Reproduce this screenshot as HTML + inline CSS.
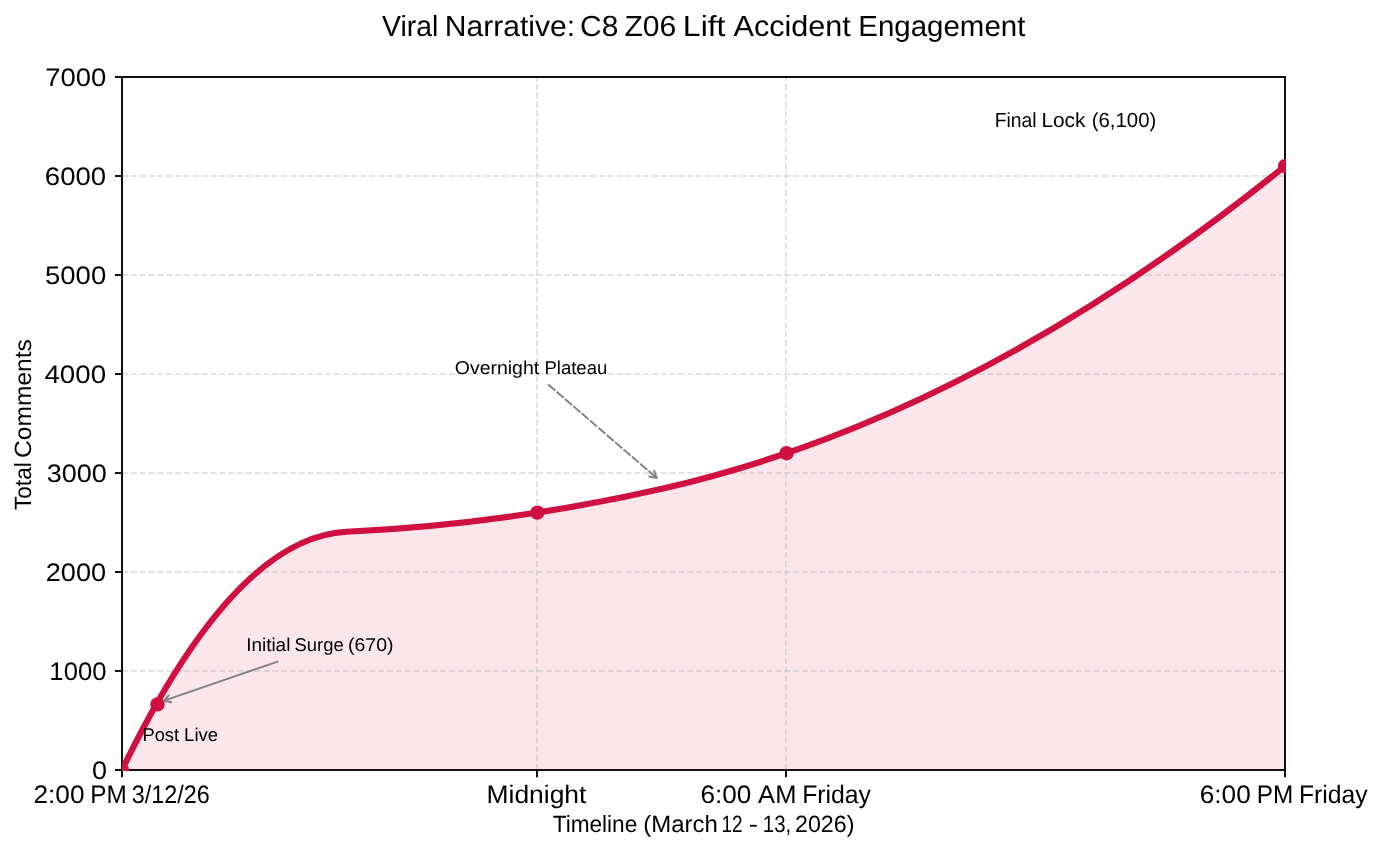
<!DOCTYPE html>
<html lang="en"><head><meta charset="utf-8"><title>Viral Narrative: C8 Z06 Lift Accident Engagement</title>
<style>html,body{margin:0;padding:0;background:#fff;}body{width:1384px;height:852px;overflow:hidden;}svg{display:block;}text{font-family:"Liberation Sans", sans-serif;fill:#000;text-rendering:geometricPrecision;}</style>
</head><body>
<svg width="1384" height="852" viewBox="0 0 1384 852">
<rect x="0" y="0" width="1384" height="852" fill="#fff"/>
<defs><clipPath id="ax"><rect x="122.0" y="77.0" width="1163.0" height="693.0"/></clipPath><clipPath id="ax2"><rect x="122.00" y="76.00" width="1164.00" height="695.00"/></clipPath></defs>
<g clip-path="url(#ax)">
<path d="M122.00 770.00 Q234.49 536.89 346.99 531.75 Q504.47 524.55 661.96 488.76 Q973.48 417.97 1285.00 166.10 L1285.00 770.00 L122.00 770.00 Z" fill="#fae6eb" stroke="none"/>
<line x1="122.0" y1="671.00" x2="1285.0" y2="671.00" stroke="#b0b0b0" stroke-opacity="0.35" stroke-width="2" stroke-dasharray="6.17 2.66"/>
<line x1="122.0" y1="572.00" x2="1285.0" y2="572.00" stroke="#b0b0b0" stroke-opacity="0.35" stroke-width="2" stroke-dasharray="6.17 2.66"/>
<line x1="122.0" y1="473.00" x2="1285.0" y2="473.00" stroke="#b0b0b0" stroke-opacity="0.35" stroke-width="2" stroke-dasharray="6.17 2.66"/>
<line x1="122.0" y1="374.00" x2="1285.0" y2="374.00" stroke="#b0b0b0" stroke-opacity="0.35" stroke-width="2" stroke-dasharray="6.17 2.66"/>
<line x1="122.0" y1="275.00" x2="1285.0" y2="275.00" stroke="#b0b0b0" stroke-opacity="0.35" stroke-width="2" stroke-dasharray="6.17 2.66"/>
<line x1="122.0" y1="176.00" x2="1285.0" y2="176.00" stroke="#b0b0b0" stroke-opacity="0.35" stroke-width="2" stroke-dasharray="6.17 2.66"/>
<line x1="537.00" y1="770.0" x2="537.00" y2="77.0" stroke="#b0b0b0" stroke-opacity="0.35" stroke-width="2" stroke-dasharray="6.17 2.66"/>
<line x1="786.00" y1="770.0" x2="786.00" y2="77.0" stroke="#b0b0b0" stroke-opacity="0.35" stroke-width="2" stroke-dasharray="6.17 2.66"/>
</g>
<rect x="122.0" y="77.0" width="1163.0" height="693.0" fill="none" stroke="#111" stroke-width="2"/>
<line x1="115.0" y1="770.00" x2="122.0" y2="770.00" stroke="#111" stroke-width="2"/>
<line x1="115.0" y1="671.00" x2="122.0" y2="671.00" stroke="#111" stroke-width="2"/>
<line x1="115.0" y1="572.00" x2="122.0" y2="572.00" stroke="#111" stroke-width="2"/>
<line x1="115.0" y1="473.00" x2="122.0" y2="473.00" stroke="#111" stroke-width="2"/>
<line x1="115.0" y1="374.00" x2="122.0" y2="374.00" stroke="#111" stroke-width="2"/>
<line x1="115.0" y1="275.00" x2="122.0" y2="275.00" stroke="#111" stroke-width="2"/>
<line x1="115.0" y1="176.00" x2="122.0" y2="176.00" stroke="#111" stroke-width="2"/>
<line x1="115.0" y1="77.00" x2="122.0" y2="77.00" stroke="#111" stroke-width="2"/>
<line x1="122.00" y1="770.0" x2="122.00" y2="777.3" stroke="#111" stroke-width="2"/>
<line x1="537.00" y1="770.0" x2="537.00" y2="777.3" stroke="#111" stroke-width="2"/>
<line x1="786.00" y1="770.0" x2="786.00" y2="777.3" stroke="#111" stroke-width="2"/>
<line x1="1285.00" y1="770.0" x2="1285.00" y2="777.3" stroke="#111" stroke-width="2"/>
<g clip-path="url(#ax2)">
<path d="M122.00 770.00 Q234.49 536.89 346.99 531.75 Q504.47 524.55 661.96 488.76 Q973.48 417.97 1285.00 166.10" fill="none" stroke="#d01040" stroke-width="6.2" stroke-linejoin="round" stroke-linecap="butt"/>
<circle cx="122.00" cy="770.00" r="7.2" fill="#d01040"/>
<circle cx="157.50" cy="704.40" r="7.2" fill="#d01040"/>
<circle cx="537.36" cy="512.60" r="7.2" fill="#d01040"/>
<circle cx="786.57" cy="453.20" r="7.2" fill="#d01040"/>
<circle cx="1285.00" cy="166.10" r="7.2" fill="#d01040"/>
</g>
<text y="36.00" font-size="29.10"><tspan x="382.06" textLength="56.26" lengthAdjust="spacingAndGlyphs">Viral</tspan> <tspan x="444.82" textLength="130.17" lengthAdjust="spacingAndGlyphs">Narrative:</tspan> <tspan x="580.00" textLength="38.30" lengthAdjust="spacingAndGlyphs">C8</tspan> <tspan x="624.42" textLength="51.88" lengthAdjust="spacingAndGlyphs">Z06</tspan> <tspan x="682.86" textLength="42.63" lengthAdjust="spacingAndGlyphs">Lift</tspan> <tspan x="733.62" textLength="117.22" lengthAdjust="spacingAndGlyphs">Accident</tspan> <tspan x="858.37" textLength="166.98" lengthAdjust="spacingAndGlyphs">Engagement</tspan></text>
<text y="778.95" font-size="25.30"><tspan x="92.12" textLength="15.03" lengthAdjust="spacingAndGlyphs">0</tspan></text>
<text y="679.95" font-size="25.30"><tspan x="49.38" textLength="57.04" lengthAdjust="spacingAndGlyphs">1000</tspan></text>
<text y="580.95" font-size="25.30"><tspan x="45.74" textLength="60.44" lengthAdjust="spacingAndGlyphs">2000</tspan></text>
<text y="481.95" font-size="25.30"><tspan x="46.69" textLength="60.08" lengthAdjust="spacingAndGlyphs">3000</tspan></text>
<text y="382.95" font-size="25.30"><tspan x="44.48" textLength="61.62" lengthAdjust="spacingAndGlyphs">4000</tspan></text>
<text y="283.95" font-size="25.30"><tspan x="45.00" textLength="61.19" lengthAdjust="spacingAndGlyphs">5000</tspan></text>
<text y="184.95" font-size="25.30"><tspan x="44.82" textLength="61.27" lengthAdjust="spacingAndGlyphs">6000</tspan></text>
<text y="85.95" font-size="25.30"><tspan x="45.26" textLength="61.03" lengthAdjust="spacingAndGlyphs">7000</tspan></text>
<text y="803.00" font-size="25.30"><tspan x="33.49" textLength="51.03" lengthAdjust="spacingAndGlyphs">2:00</tspan> <tspan x="90.19" textLength="36.52" lengthAdjust="spacingAndGlyphs">PM</tspan> <tspan x="131.82" textLength="78.01" lengthAdjust="spacingAndGlyphs">3/12/26</tspan></text>
<text y="803.00" font-size="25.30"><tspan x="486.52" textLength="99.88" lengthAdjust="spacingAndGlyphs">Midnight</tspan></text>
<text y="803.00" font-size="25.30"><tspan x="700.54" textLength="50.87" lengthAdjust="spacingAndGlyphs">6:00</tspan> <tspan x="758.14" textLength="38.27" lengthAdjust="spacingAndGlyphs">AM</tspan> <tspan x="802.16" textLength="68.83" lengthAdjust="spacingAndGlyphs">Friday</tspan></text>
<text y="803.00" font-size="25.30"><tspan x="1199.74" textLength="51.03" lengthAdjust="spacingAndGlyphs">6:00</tspan> <tspan x="1256.69" textLength="36.52" lengthAdjust="spacingAndGlyphs">PM</tspan> <tspan x="1299.01" textLength="68.57" lengthAdjust="spacingAndGlyphs">Friday</tspan></text>
<text y="832.00" font-size="23.50"><tspan x="552.69" textLength="84.56" lengthAdjust="spacingAndGlyphs">Timeline</tspan> <tspan x="643.20" textLength="74.59" lengthAdjust="spacingAndGlyphs">(March</tspan> <tspan x="721.47" textLength="21.23" lengthAdjust="spacingAndGlyphs">12</tspan> <tspan x="748.74" textLength="9.34" lengthAdjust="spacingAndGlyphs">-</tspan> <tspan x="762.87" textLength="28.37" lengthAdjust="spacingAndGlyphs">13,</tspan> <tspan x="795.04" textLength="59.42" lengthAdjust="spacingAndGlyphs">2026)</tspan></text>
<text y="0.00" font-size="23.50" transform="translate(31.3 520.0) rotate(-90)"><tspan x="9.99" textLength="47.73" lengthAdjust="spacingAndGlyphs">Total</tspan> <tspan x="62.07" textLength="118.78" lengthAdjust="spacingAndGlyphs">Comments</tspan></text>
<text y="740.60" font-size="18.50"><tspan x="142.49" textLength="36.56" lengthAdjust="spacingAndGlyphs">Post</tspan> <tspan x="184.07" textLength="34.06" lengthAdjust="spacingAndGlyphs">Live</tspan></text>
<text y="650.50" font-size="18.50"><tspan x="246.15" textLength="44.22" lengthAdjust="spacingAndGlyphs">Initial</tspan> <tspan x="294.47" textLength="49.23" lengthAdjust="spacingAndGlyphs">Surge</tspan> <tspan x="348.03" textLength="45.58" lengthAdjust="spacingAndGlyphs">(670)</tspan></text>
<text y="373.70" font-size="18.50"><tspan x="454.88" textLength="84.28" lengthAdjust="spacingAndGlyphs">Overnight</tspan> <tspan x="544.42" textLength="62.92" lengthAdjust="spacingAndGlyphs">Plateau</tspan></text>
<text y="126.60" font-size="20.50"><tspan x="994.71" textLength="41.90" lengthAdjust="spacingAndGlyphs">Final</tspan> <tspan x="1041.38" textLength="44.12" lengthAdjust="spacingAndGlyphs">Lock</tspan> <tspan x="1091.78" textLength="64.52" lengthAdjust="spacingAndGlyphs">(6,100)</tspan></text>
<line x1="278.40" y1="661.40" x2="164.25" y2="700.72" stroke="#808080" stroke-width="1.9"/>
<polyline points="168.79,695.19 164.25,700.72 171.23,702.28" fill="none" stroke="#808080" stroke-width="1.9" stroke-linejoin="round" stroke-linecap="round"/>
<line x1="548.20" y1="384.50" x2="656.89" y2="478.15" stroke="#808080" stroke-width="1.9" stroke-dasharray="9.3 1.74"/>
<polyline points="649.22,476.48 656.89,478.15 654.11,470.80" fill="none" stroke="#808080" stroke-width="1.9" stroke-linejoin="round" stroke-linecap="round"/>
</svg></body></html>
